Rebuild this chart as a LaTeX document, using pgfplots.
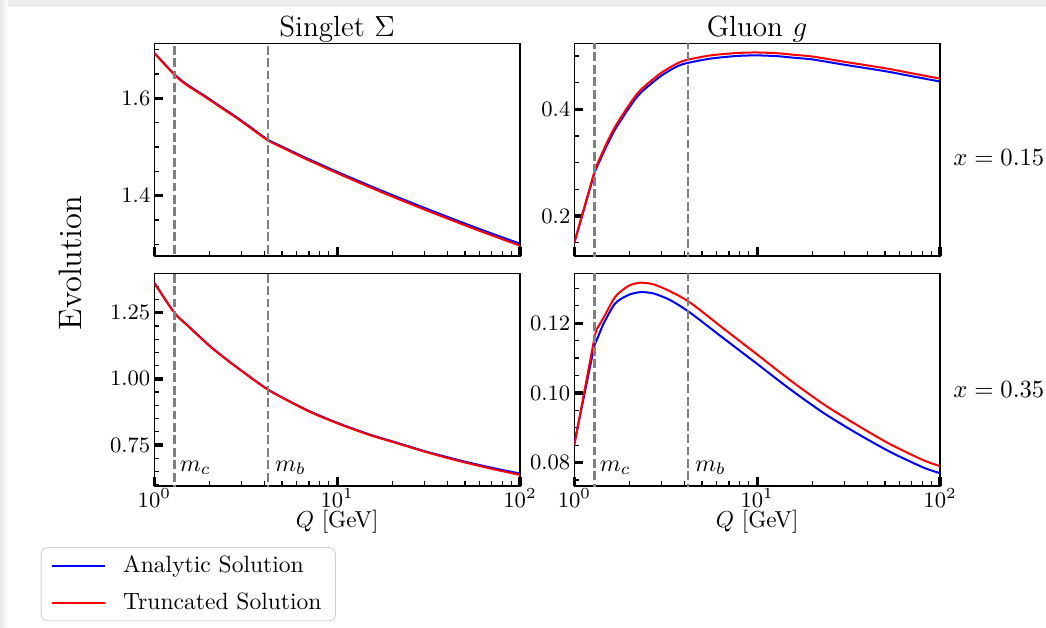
\RequirePackage{fix-cm}
\documentclass[border=0pt]{standalone}
\usepackage{pgfplots}
\pgfplotsset{compat=1.18}
\definecolor{mblue}{RGB}{0,0,255}
\definecolor{mred}{RGB}{255,0,0}
\definecolor{dgray}{RGB}{128,128,128}
\newcommand{\myfs}[1]{\fontsize{#1}{#1}\selectfont}
\pgfplotsset{
 panel/.style={
   scale only axis, width=164.57pt, height=95.72pt,
   xmin=1, xmax=100,
   xtick={1,10,100}, xminorticks=true,
   axis line style={line width=0.6pt},
   tick align=inside, tick pos=left,
   major tick length=4pt, minor tick length=2.2pt,
   every major tick/.append style={line width=1.5pt, black},
   every minor tick/.append style={line width=0.6pt, black},
   tick label style={font=\myfs{9.9}},
   xticklabel style={inner ysep=0.8pt},
   yticklabel style={inner xsep=1.6pt},
   scaled y ticks=false,
 },
 ana/.style={mblue, line width=0.9pt, line join=round},
 tru/.style={mred, line width=0.9pt, line join=round},
 sm/.style={smooth, tension=0.45},
 mline/.style={dgray, line width=1pt, dash pattern=on 4pt off 1.6pt, forget plot},
 xlab/.style={xlabel={$Q$ [GeV]}, xlabel style={font=\myfs{10.4}, at={(axis description cs:0.5,-0.169)}, anchor=center}},
}
\begin{document}
\begin{tikzpicture}
\useasboundingbox (0,0) rectangle (470.7pt,-282.6pt);
\fill[black!7] (0,0) rectangle (470.7pt,-3.2pt);
\shade[left color=black!9, right color=white] (0,0) rectangle (3.4pt,-282.6pt);

% ---------------- top left: singlet, x=0.15
\begin{semilogxaxis}[panel, at={(69.44pt,-19.49pt)}, anchor=north west,
  xticklabels={,,},
  ymin=1.2762, ymax=1.7129, ytick={1.4,1.6},
  minor ytick={1.3,1.35,1.45,1.5,1.55,1.65,1.7}]
\addplot[ana, sm] coordinates {(1,1.693)(1.29,1.649)(1.5,1.629)(1.854,1.6068)(2.3,1.5832)(2.82,1.561)(3.5,1.5357)(4.2,1.5144)(5,1.5007)(6.53,1.480)(8,1.4652)(9.95,1.4493)(15.1,1.4203)(20,1.4014)(30,1.375)(50,1.3428)(70,1.3224)(100,1.3015)};
\addplot[tru, sm] coordinates {(1,1.693)(1.29,1.648)(1.5,1.6275)(1.854,1.6053)(2.3,1.5817)(2.82,1.5595)(3.5,1.5342)(4.2,1.5129)(5,1.4989)(6.53,1.4778)(8,1.4628)(9.95,1.4467)(15.1,1.4174)(20,1.3983)(30,1.3717)(50,1.3392)(70,1.3186)(100,1.2975)};
\addplot[mline] coordinates {(1.29,1) (1.29,2)};
\addplot[mline] coordinates {(4.18,1) (4.18,2)};
\end{semilogxaxis}

% ---------------- top right: gluon, x=0.15
\begin{semilogxaxis}[panel, at={(258.44pt,-19.49pt)}, anchor=north west,
  xticklabels={,,},
  ymin=0.125, ymax=0.5237, ytick={0.2,0.4},
  minor ytick={0.15,0.25,0.3,0.35,0.45,0.5}]
\addplot[ana] coordinates {(1,0.150)(1.29,0.281)};
\addplot[ana, sm] coordinates {(1.29,0.281)(1.33,0.292)(1.5,0.331)(1.676,0.363)(2,0.4035)(2.3,0.4305)(2.95,0.4615)(3.65,0.4805)(4.18,0.487)(5.55,0.495)(7.76,0.5)(10,0.501)(13,0.4995)(16,0.4965)(20,0.4935)(30,0.4835)(50,0.4715)(70,0.462)(100,0.452)};
\addplot[tru] coordinates {(1,0.150)(1.29,0.284)};
\addplot[tru, sm] coordinates {(1.29,0.284)(1.33,0.296)(1.5,0.336)(1.676,0.368)(2,0.409)(2.3,0.436)(2.95,0.467)(3.65,0.486)(4.18,0.493)(5.55,0.501)(7.76,0.5056)(10,0.5065)(13,0.505)(16,0.502)(20,0.499)(30,0.489)(50,0.477)(70,0.4675)(100,0.4575)};
\addplot[mline] coordinates {(1.29,0) (1.29,1)};
\addplot[mline] coordinates {(4.18,0) (4.18,1)};
\end{semilogxaxis}

% ---------------- bottom left: singlet, x=0.35
\begin{semilogxaxis}[panel, xlab, at={(69.44pt,-122.99pt)}, anchor=north west,
  ymin=0.595, ymax=1.399, ytick={0.75,1,1.25},
  minor ytick={0.6,0.65,0.7,0.8,0.85,0.9,0.95,1.05,1.1,1.15,1.2,1.3,1.35},
  yticklabel style={/pgf/number format/.cd, fixed, fixed zerofill, precision=2},
  legend style={at={(-0.3106,-0.2868)}, anchor=north west, draw=black!18,
    rounded corners=2.5pt, fill=white, font=\myfs{10.6},
    inner xsep=4.2pt, inner ysep=1.6pt, row sep=3.7pt, column sep=5.9pt},
  legend image code/.code={\draw[#1] (0pt,0pt) -- (23.9pt,0pt);},
  legend cell align=left]
\addplot[ana, sm] coordinates {(1,1.363)(1.29,1.249)(1.5,1.206)(2,1.126)(2.5,1.072)(3,1.031)(3.5,0.997)(4.18,0.960)(5,0.930)(7,0.879)(10,0.834)(15,0.790)(20,0.764)(30,0.727)(40,0.704)(50,0.687)(70,0.664)(100,0.642)};
\addlegendentry{Analytic Solution}
\addplot[tru, sm] coordinates {(1,1.363)(1.29,1.249)(1.5,1.205)(2,1.125)(2.5,1.071)(3,1.030)(3.5,0.996)(4.18,0.959)(5,0.929)(7,0.877)(10,0.832)(15,0.788)(20,0.762)(30,0.725)(40,0.701)(50,0.684)(70,0.660)(100,0.637)};
\addlegendentry{Truncated Solution}
\addplot[mline] coordinates {(1.29,0) (1.29,2)};
\addplot[mline] coordinates {(4.18,0) (4.18,2)};
\node[anchor=west, inner sep=0pt, font=\myfs{10.8}] at (axis cs:1.37,0.663) {$m_c$};
\node[anchor=west, inner sep=0pt, font=\myfs{10.8}] at (axis cs:4.55,0.663) {$m_b$};
\end{semilogxaxis}

% ---------------- bottom right: gluon, x=0.35
\begin{semilogxaxis}[panel, xlab, at={(258.44pt,-122.99pt)}, anchor=north west,
  ymin=0.0733, ymax=0.1343, ytick={0.08,0.10,0.12},
  minor ytick={0.075,0.085,0.09,0.095,0.105,0.11,0.115,0.125,0.13},
  yticklabel style={/pgf/number format/.cd, fixed, fixed zerofill, precision=2}]
\addplot[ana] coordinates {(1,0.0855)(1.29,0.1138)(1.34,0.1157)};
\addplot[ana, sm] coordinates {(1.34,0.1157)(1.45,0.1200)(1.676,0.1257)(1.98,0.1281)(2.3,0.1289)(2.72,0.1285)(3.35,0.1266)(4.3,0.1230)(6.53,0.1157)(9.95,0.1084)(15.1,0.1011)(23,0.0943)(35.1,0.0884)(53.3,0.0831)(81.1,0.0786)(100,0.0770)};
\addplot[tru] coordinates {(1,0.0850)(1.29,0.1160)(1.32,0.1181)};
\addplot[tru, sm] coordinates {(1.32,0.1181)(1.45,0.1217)(1.676,0.1276)(1.98,0.1307)(2.3,0.1316)(2.72,0.1311)(3.35,0.1291)(4.3,0.1259)(6.53,0.1185)(9.95,0.1111)(15.1,0.1037)(23,0.0968)(35.1,0.0908)(53.3,0.0853)(81.1,0.0807)(100,0.0790)};
\addplot[mline] coordinates {(1.29,0) (1.29,1)};
\addplot[mline] coordinates {(4.18,0) (4.18,1)};
\node[anchor=west, inner sep=0pt, font=\myfs{10.8}] at (axis cs:1.37,0.0785) {$m_c$};
\node[anchor=west, inner sep=0pt, font=\myfs{10.8}] at (axis cs:4.55,0.0785) {$m_b$};
\end{semilogxaxis}

% ---------------- annotations
\node[anchor=base, font=\myfs{13.1}] at (151.7pt,-16.65pt) {Singlet $\Sigma$};
\node[anchor=base, font=\myfs{13.1}] at (340.65pt,-16.65pt) {Gluon $g$};
\node[rotate=90, font=\myfs{14.6}] at (31.5pt,-118.35pt) {Evolution};
\node[anchor=west, inner sep=0pt, font=\myfs{11.1}] at (428.85pt,-71.1pt) {$x = 0.15$};
\node[anchor=west, inner sep=0pt, font=\myfs{11.1}] at (428.85pt,-175.5pt) {$x = 0.35$};
\end{tikzpicture}
\end{document}
